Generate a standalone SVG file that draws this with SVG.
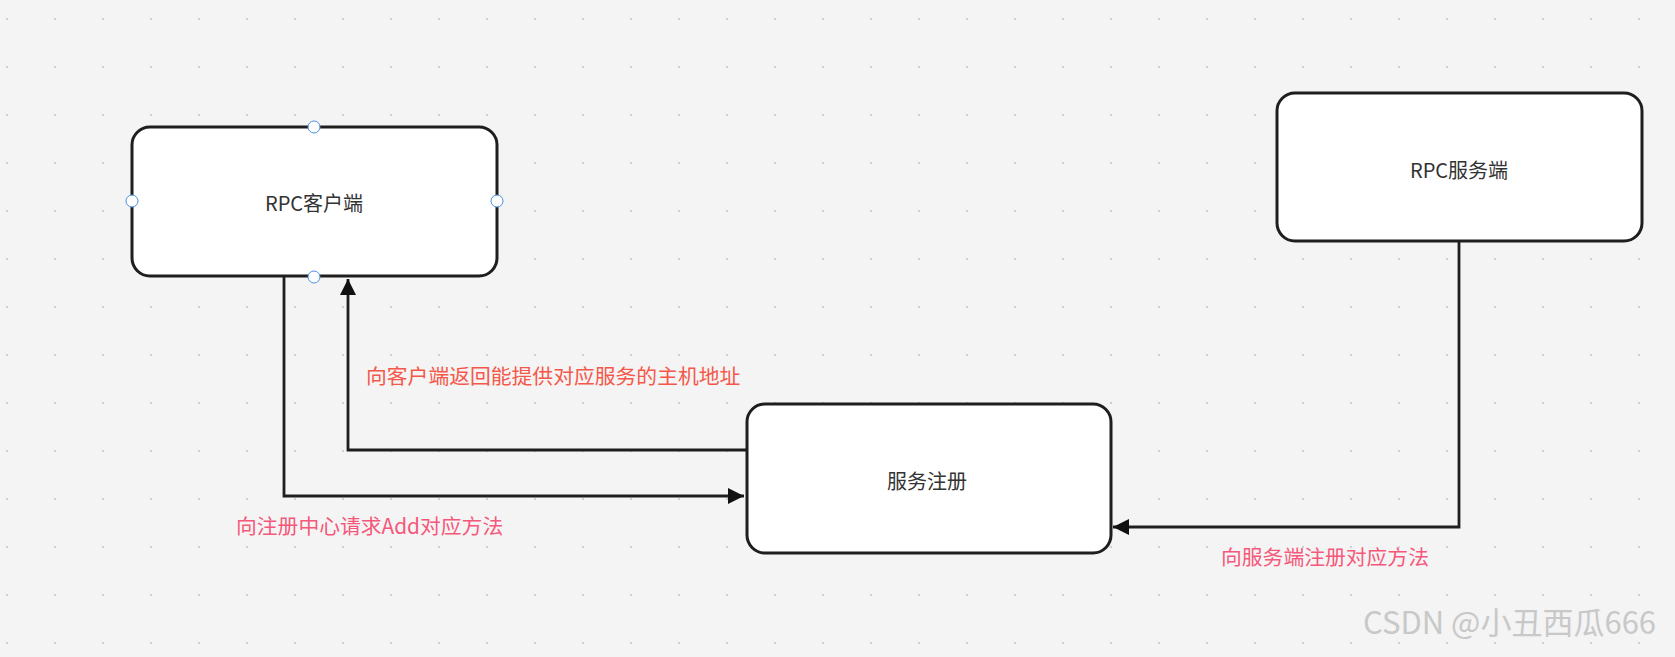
<svg xmlns="http://www.w3.org/2000/svg" width="1675" height="657" viewBox="0 0 1675 657">
<defs>
<pattern id="dots" x="6" y="18" width="48" height="48" patternUnits="userSpaceOnUse"><rect width="2" height="2" fill="#cfcfcf"/></pattern>
<marker id="ah" viewBox="0 0 10 10" refX="10" refY="5" markerWidth="16" markerHeight="16" markerUnits="userSpaceOnUse" orient="auto"><path d="M0,0 L10,5 L0,10 z" fill="#111"/></marker>
</defs>
<style>
.box{fill:#fff;stroke:#1e1e1e;stroke-width:3}
.t{font-family:"Noto Sans CJK SC","Noto Sans",sans-serif;font-size:20px;fill:#333;text-anchor:middle;dominant-baseline:central}
.l{font-family:"Noto Sans CJK SC","Noto Sans",sans-serif;font-size:20.8px;dominant-baseline:central}
.c{fill:none;stroke:#1e1e1e;stroke-width:2.8;marker-end:url(#ah)}
.h{fill:#fff;stroke:#4a90e2;stroke-width:1}
</style>
<rect width="1675" height="657" fill="#f4f4f4"/>
<rect width="1675" height="657" fill="url(#dots)"/>
<g id="connectors">
<path class="c" d="M284,277 V496 H744"/>
<path class="c" d="M747,450 H348 V279"/>
<path class="c" d="M1459,241 V527 H1113"/>
</g>
<g id="client">
<rect class="box" x="132" y="127" width="365" height="149" rx="18"/>
<text class="t" x="314" y="202">RPC客户端</text>
<circle class="h" cx="314" cy="127" r="6"/><circle class="h" cx="314" cy="277" r="6"/>
<circle class="h" cx="132" cy="201" r="6"/><circle class="h" cx="497" cy="201" r="6"/>
</g>
<g id="server">
<rect class="box" x="1277" y="93" width="365" height="148" rx="18"/>
<text class="t" x="1459" y="169">RPC服务端</text>
</g>
<g id="registry">
<rect class="box" x="747" y="404" width="364" height="149" rx="18"/>
<text class="t" x="927" y="480">服务注册</text>
</g>
<g id="labels">
<text class="l" x="366" y="375" fill="#f5584a">向客户端返回能提供对应服务的主机地址</text>
<text class="l" x="236" y="525" fill="#f5587a">向注册中心请求Add对应方法</text>
<text class="l" x="1221" y="556" fill="#f5587a">向服务端注册对应方法</text>
<text x="1363" y="634" font-family="'Noto Sans CJK SC','Noto Sans',sans-serif" font-size="31" fill="#c8c8c8">CSDN @小丑西瓜666</text>
</g>
</svg>
